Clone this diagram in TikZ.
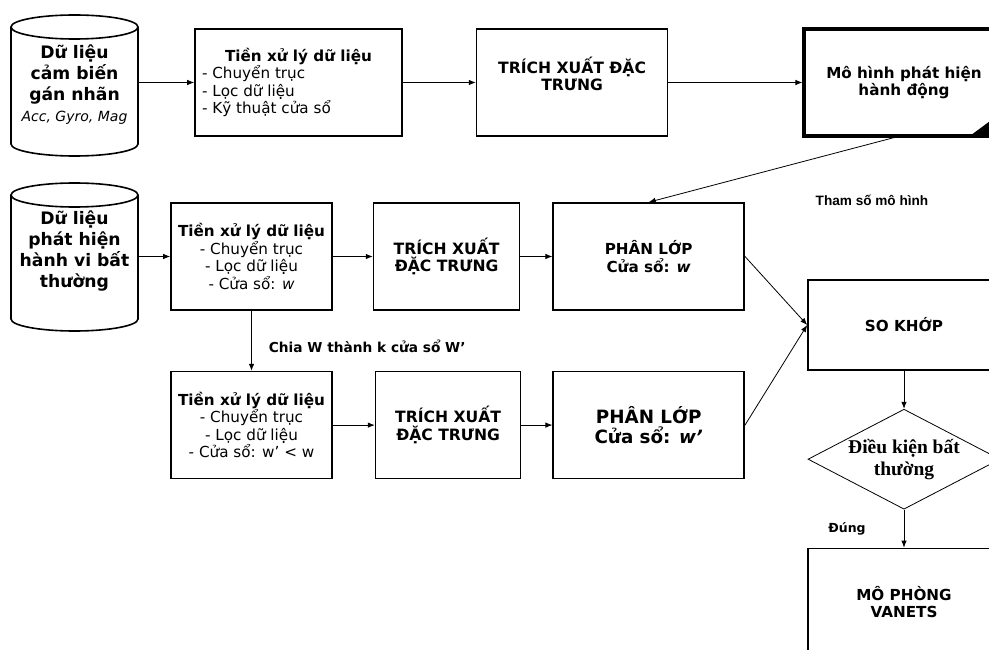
\documentclass[tikz,border=0pt]{standalone}
\usepackage{fontspec}
\setmainfont{DejaVu Sans}
\newfontfamily\timesfont{Liberation Serif}
\newfontfamily\arialfont{Liberation Sans}
\usetikzlibrary{arrows.meta,positioning,shapes.geometric}
\tikzset{
  >={Latex[length=7pt,width=5.5pt]},
  every node/.style={text=black,inner sep=0pt},
  box/.style={draw,line width=1.6pt,align=center,minimum height=107pt,font=\fontsize{15.2}{17.5}\selectfont\bfseries},
  prepbox/.style={box,font=\fontsize{15.2}{17.5}\selectfont},
  modelbox/.style={box,line width=3.2pt},
  dbcyl/.style={cylinder,shape border rotate=90,aspect=0.24,draw,line width=1.6pt,minimum width=127pt,anchor=shape center},
  dbtext/.style={align=center,font=\fontsize{17.2}{21}\selectfont\bfseries},
  condbox/.style={diamond,draw,line width=0.8pt,aspect=1.92,minimum width=192pt,minimum height=100pt,align=center,font=\fontsize{19.5}{22}\selectfont\timesfont\bfseries},
  arrow/.style={->,line width=0.8pt},
  lbl/.style={font=\fontsize{13.7}{16}\selectfont\bfseries},
}

\begin{document}
\begin{tikzpicture}[x=1pt,y=1pt]
\useasboundingbox (0,0) rectangle (989,-650);
\clip (0,0) rectangle (989,-650);

% huấn luyện
\node[dbcyl,minimum height=141pt] (sensor) at (74.5,-85.5) {\rule{100pt}{0pt}};
\node[dbtext] (sensorText) at (74.5,-84.5) {Dữ liệu\\cảm biến\\gán nhãn\\{\fontsize{14}{16}\selectfont\mdseries\itshape Acc, Gyro, Mag}};
\node[prepbox,minimum width=207pt] (prep1) at (298.5,-82.5) {\textbf{Tiền xử lý dữ liệu}\\\parbox[t]{193pt}{- Chuyển trục\\- Lọc dữ liệu\\- Kỹ thuật cửa sổ}};
\node[box,minimum width=191pt,right=73pt of prep1,font=\fontsize{15.6}{17.5}\selectfont\bfseries] (feat1) {TRÍCH XUẤT ĐẶC\\TRƯNG\\\mbox{}};
\node[modelbox,minimum width=200pt,right=134pt of feat1] (model) {Mô hình phát hiện\\hành động};
\fill (model.south east) -- ++(-38,0) -- ++(38,28) -- cycle;

% phát hiện, cửa sổ w
\node[dbcyl,minimum height=148pt] (abn) at (74.5,-257) {\rule{100pt}{0pt}};
\node[dbtext] (abnText) at (74.5,-251) {Dữ liệu\\phát hiện\\hành vi bất\\thường};
\node[prepbox,minimum width=161pt] (prep2) at (251.5,-256.5) {\textbf{Tiền xử lý dữ liệu}\\- Chuyển trục\\- Lọc dữ liệu\\- Cửa sổ: \textit{w}};
\node[box,minimum width=146pt,right=40pt of prep2,font=\fontsize{15.6}{17.5}\selectfont\bfseries] (feat2) {TRÍCH XUẤT\\ĐẶC TRƯNG};
\node[box,minimum width=191pt,right=32pt of feat2] (cls1) {PHÂN LỚP\\Cửa sổ: \textit{w}};

% cửa sổ w'
\node[prepbox,minimum width=161pt,below=60pt of prep2] (prep3) {\textbf{Tiền xử lý dữ liệu}\\- Chuyển trục\\- Lọc dữ liệu\\- Cửa sổ: w’ < w};
\node[box,minimum width=145pt,right=42pt of prep3,font=\fontsize{15.6}{17.5}\selectfont\bfseries] (feat3) {TRÍCH XUẤT\\ĐẶC TRƯNG};
\node[box,minimum width=191pt,right=31pt of feat3,font=\fontsize{18.3}{20}\selectfont\bfseries] (cls2) {PHÂN LỚP\\Cửa sổ: \textit{w’}};

% so khớp
\node[box,minimum width=192pt,minimum height=90pt] (match) at (904,-325) {SO KHỚP};
\node[condbox,below=38pt of match] (cond) {Điều kiện bất\\thường};
\node[box,minimum width=192pt,below=38pt of cond] (sim) {MÔ PHÒNG\\VANETS};
\node[font=\fontsize{13.6}{16}\selectfont\arialfont\bfseries] (param) at (872,-200) {Tham số mô hình};

\draw[arrow] (sensor.east |- prep1) -- (prep1.west);
\draw[arrow] (prep1) -- (feat1);
\draw[arrow] (feat1) -- (model);
\draw[arrow] ([xshift=-10pt]model.south) -- (cls1.north);
\draw[arrow] (abn.east |- prep2) -- (prep2.west);
\draw[arrow] (prep2) -- (feat2);
\draw[arrow] (feat2) -- (cls1);
\draw[arrow] (prep2) -- node[lbl,right=17pt,pos=0.6] (split) {Chia W thành k cửa sổ W’} (prep3);
\draw[arrow] (prep3) -- (feat3);
\draw[arrow] (feat3) -- (cls2);
\draw[arrow] (cls1.east) -- (match.west);
\draw[arrow] (cls2.east) -- (match.west);
\draw[arrow] (match) -- (cond);
\draw[arrow] (cond) -- node[lbl,left=38pt,font=\fontsize{12.5}{15}\selectfont\bfseries] (yes) {Đúng} (sim);

\end{tikzpicture}
\end{document}
